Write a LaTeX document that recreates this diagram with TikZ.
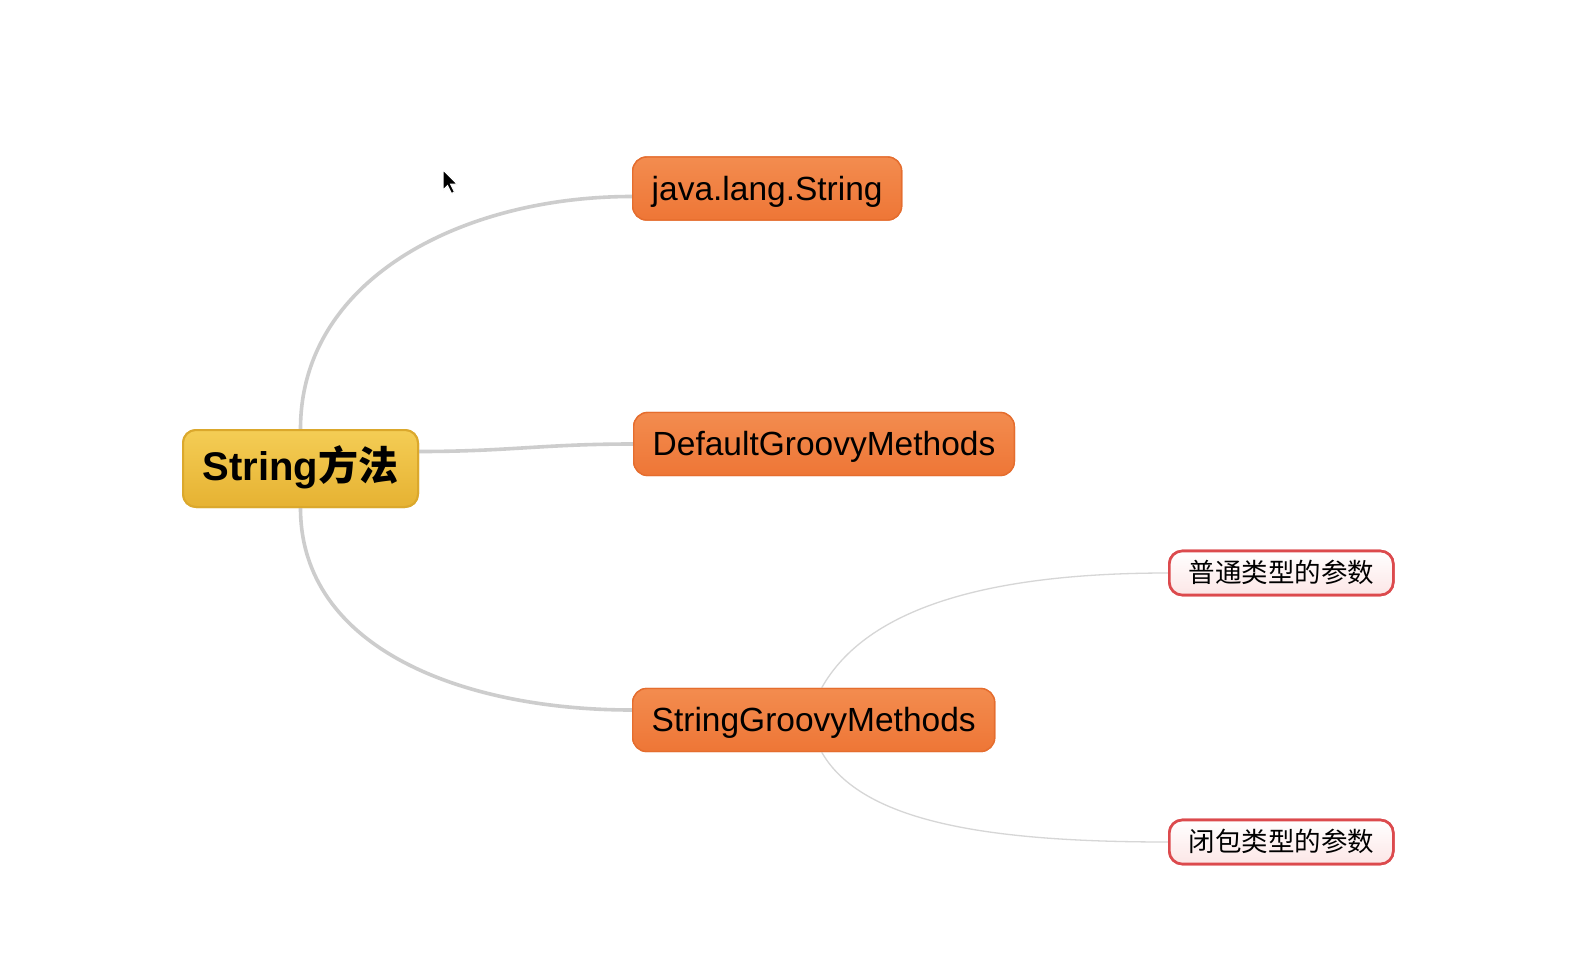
\documentclass[tikz,border=0pt]{standalone}
\usepackage{fontspec}
\setmainfont{Liberation Sans}
\newfontfamily\cjk{Noto Sans CJK SC}
\usetikzlibrary{calc}
\definecolor{orangefill}{HTML}{EE7636}
\definecolor{orangetop}{HTML}{F38C4F}
\definecolor{orangeline}{HTML}{E56D2E}
\definecolor{goldtop}{HTML}{F4CD55}
\definecolor{goldbot}{HTML}{E6B232}
\definecolor{goldline}{HTML}{DBA82C}
\definecolor{redline}{HTML}{DC4A4D}
\definecolor{pinkfill}{HTML}{FCE6E6}
\definecolor{branch}{HTML}{CDCDCD}
\definecolor{twig}{HTML}{D6D6D6}
\tikzset{
  rootbox/.style={draw=goldline, line width=2pt, rounded corners=13pt,
    top color=goldtop, bottom color=goldbot,
    minimum width=235pt, minimum height=77pt, inner xsep=0pt,
    font=\fontsize{40}{42}\selectfont\bfseries, text height=30pt, text depth=7pt},
  topicbox/.style={draw=orangeline, line width=1.4pt, rounded corners=14pt,
    top color=orangetop, bottom color=orangefill,
    minimum height=63pt, inner xsep=19pt, anchor=west,
    font=\fontsize{33.5}{36}\selectfont, text height=27pt, text depth=4pt},
  leafbox/.style={draw=redline, line width=2.6pt, rounded corners=13pt,
    top color=white, bottom color=pinkfill,
    minimum width=224pt, minimum height=44pt, inner xsep=0pt, anchor=west,
    font=\cjk\fontsize{26.5}{28}\selectfont, text height=21pt, text depth=3pt},
  branchline/.style={draw=branch, line width=3.6pt},
  twigline/.style={draw=twig, line width=1.3pt},
}
\begin{document}
\begin{tikzpicture}[x=1pt, y=-1pt]
  \useasboundingbox[fill=white] (0,0) rectangle (1582,974);

  % main topics and leaves
  \node[rootbox] (root) at (300.5,468.5) {String{\cjk\bfseries 方法}};
  \node[topicbox] (java) at (632,188.5) {java.lang.String};
  \node[topicbox] (dgm) at (633,444) {DefaultGroovyMethods};
  \node[topicbox] (sgm) at (632,720) {StringGroovyMethods};
  \node[leafbox] (plain) at (1168,573) {普通类型的参数};
  \node[leafbox] (closure) at (1168,842) {闭包类型的参数};

  % branches from the root
  \draw[branchline] (root.north) .. controls +(0,-150) and +(-170,0) .. ([yshift=-8pt]java.west);
  \draw[branchline] ([yshift=17pt]root.east) .. controls +(90,0) and +(-90,0) .. (dgm.west);
  \draw[branchline] (root.south) .. controls +(0,140) and +(-170,0) .. ([yshift=10pt]sgm.west);
  % leaves of StringGroovyMethods
  \draw[twigline] ([xshift=8pt]sgm.north) .. controls +(45,-80) and +(-180,0) .. (plain.west);
  \draw[twigline] ([xshift=8pt]sgm.south) .. controls +(40,70) and +(-180,0) .. (closure.west);

  % nodes drawn again above the branch ends
  \node[rootbox] at (root.center) {String{\cjk\bfseries 方法}};
  \node[topicbox] at (java.west) {java.lang.String};
  \node[topicbox] at (dgm.west) {DefaultGroovyMethods};
  \node[topicbox] at (sgm.west) {StringGroovyMethods};
  \node[leafbox] at (plain.west) {普通类型的参数};
  \node[leafbox] at (closure.west) {闭包类型的参数};

  % mouse pointer
  \coordinate (tip) at (443,170);
  \fill[black, draw=white, line width=1pt] (tip) -- ++(0,20) -- ++(4.5,-4.5) -- ++(4,8) -- ++(3,-1.5) -- ++(-4,-8) -- ++(6.5,0) -- cycle;
\end{tikzpicture}
\end{document}
